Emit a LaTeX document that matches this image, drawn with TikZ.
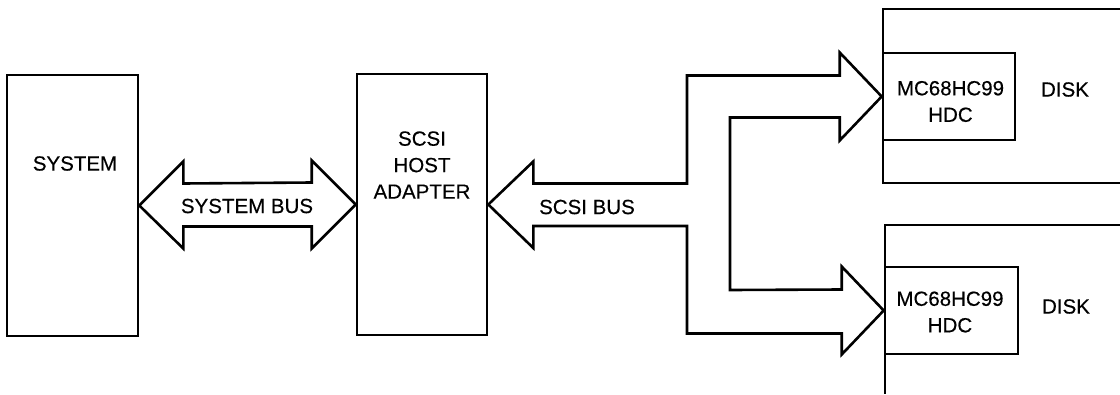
\documentclass[tikz,border=0pt]{standalone}
\usepackage{fontspec}
\setmainfont{Liberation Sans}
\newfontfamily\lblfont[FakeBold=0.35]{Liberation Sans}
\usetikzlibrary{calc}
\begin{document}
\begin{tikzpicture}[x=1pt,y=-1pt,
  ln/.style={line width=2.6pt, line join=miter},
  box/.style={ln, draw, rectangle, inner sep=0pt},
  txt/.style={font=\lblfont\fontsize{20.5}{26.5}\selectfont, align=center, inner sep=0pt},
  bus/.style={ln, draw, fill=white}]
\useasboundingbox (0,0) rectangle (1120,394);
% blocks
\node[box, minimum width=131pt, minimum height=261pt] (sys) at (72.5,205.5) {};
\node[txt] (systxt) at (75,163.5) {SYSTEM};
\node[box, minimum width=130pt, minimum height=261pt] (host) at (422,204.5) {};
\node[txt] (hosttxt) at (422,165) {SCSI\\HOST\\ADAPTER};
% disks (open to the right)
\coordinate (d1a) at (1120,9);
\coordinate (d1b) at (883,9);
\coordinate (d1c) at (883,183);
\coordinate (d1d) at (1120,183);
\draw[ln] (d1a) -- (d1b) -- (d1c) -- (d1d);
\coordinate (d2a) at (1120,225);
\coordinate (d2b) at (885,225);
\coordinate (d2c) at (885,394);
\draw[ln] (d2a) -- (d2b) -- (d2c);
\node[box, minimum width=132pt, minimum height=87pt] (hdc1) at (949,96.5) {};
\node[txt] (hdc1txt) at (950.5,101.5) {MC68HC99\\HDC};
\node[txt] (disk1) at (1065,89.5) {DISK};
\node[box, minimum width=133pt, minimum height=87pt] (hdc2) at (951.5,310.5) {};
\node[txt] (hdc2txt) at (950,312) {MC68HC99\\HDC};
\node[txt] (disk2) at (1066,306.5) {DISK};
% system bus (double arrow)
\draw[bus] (sys.east) -- ++(44,-44) -- ++(0,22) -- ($(host.west)+(-44,-22)$)
  -- ++(0,-22) -- (host.west) -- ++(-44,44) -- ++(0,-22) -- ($(sys.east)+(44,21)$)
  -- ++(0,22) -- cycle;
\node[txt] (sysbus) at (247,206) {SYSTEM BUS};
% SCSI bus (branching arrow)
\draw[bus] (host.east) -- ++(45,-43) -- ++(0,22) -- (687,183.5) -- (687,75.5)
  -- ($(hdc1.west)+(-42,-21)$) -- ++(0,-23) -- (hdc1.west) -- ++(-42,44) -- ++(0,-23)
  -- (730,117.5) -- (730,290) -- ($(hdc2.west)+(-42,-21)$) -- ++(0,-23)
  -- (hdc2.west) -- ++(-42,44) -- ++(0,-21) -- (687,333.5) -- (687,226)
  -- ($(host.east)+(45,21.5)$) -- ++(0,22) -- cycle;
\node[txt] (scsibus) at (587,207) {SCSI BUS};
\end{tikzpicture}
\end{document}
